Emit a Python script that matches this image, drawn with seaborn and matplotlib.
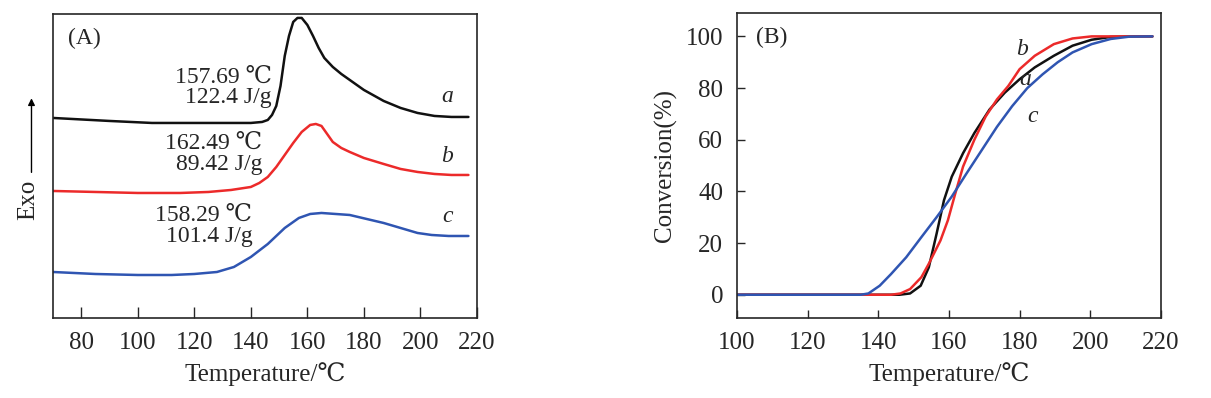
import numpy as np
import pandas as pd
import matplotlib
matplotlib.use('Agg')
import matplotlib.pyplot as plt
import seaborn as sns

# (A) DSC curves, heat flow in arbitrary units (exo up)
temp_a = [70, 90, 105, 125, 140, 144, 146, 147.5, 149, 150.5, 152, 153.5, 155, 156.5, 158,
          160, 162, 164, 166, 169, 172, 175, 180, 187, 193, 199, 205, 211, 217]
heat_a = [200, 197, 195, 195, 195, 196, 198, 203, 212, 232, 262, 282, 296, 300, 300,
          293, 282, 270, 260, 251, 244, 238, 228, 217, 210, 205, 202, 201, 201]

temp_b = [70, 85, 100, 115, 125, 133, 140, 143, 146, 149, 152, 155, 158, 161, 163, 165,
          167, 169, 172, 175, 180, 187, 193, 199, 205, 211, 217]
heat_b = [127, 126, 125, 125, 126, 128, 131, 135, 141, 151, 163, 175, 186, 193, 194, 192,
          184, 176, 170, 166, 160, 154, 149, 146, 144, 143, 143]

temp_c = [70, 85, 100, 112, 120, 128, 134, 140, 146, 152, 157, 161, 165, 170, 175, 181,
          187, 193, 199, 204, 210, 217]
heat_c = [46, 44, 43, 43, 44, 46, 51, 61, 74, 90, 100, 104, 105, 104, 103, 99,
          95, 90, 85, 83, 82, 82]

# (B) conversion curves (%)
temp_ca = [100, 120, 140, 146, 149, 152, 154.3, 156.5, 158.6, 160.8, 164, 167.2, 171.5,
           175.8, 180, 184.3, 189.7, 195, 200.4, 205.8, 212, 217.6]
conv_a = [0, 0, 0, 0, 0.5, 3.5, 10.6, 23.6, 36.6, 45.7, 54.8, 62.6, 71.7,
          78.2, 83.4, 88, 92.5, 96.4, 98.7, 99.8, 100, 100]

temp_cb = [100, 120, 140, 143.6, 146.3, 149, 152.2, 154.3, 157.6, 159.7, 161.8, 164, 167.2,
           170.4, 173.6, 176.8, 180, 184.3, 189.7, 195, 200.4, 207, 217.6]
conv_b = [0, 0, 0, 0, 0.5, 2.2, 6.8, 12, 21, 28.8, 39.2, 49.6, 60,
          69, 75.6, 80.8, 87.3, 92.5, 97, 99.2, 100, 100, 100]

temp_cc = [100, 120, 135, 137.2, 140.4, 143.6, 147.9, 152.2, 156.5, 160.8, 165, 169.3,
           173.6, 177.9, 182.2, 186.5, 190.8, 195, 200.4, 205.8, 211.1, 217.6]
conv_c = [0, 0, 0, 0.5, 3.5, 8, 14.5, 22.3, 30, 38, 47, 56,
          65, 73, 80, 85.3, 90, 93.8, 97, 99, 99.9, 100]

colors = {'a': '#111111', 'b': '#ec2a2a', 'c': '#2f55b2'}

sns.set_style('ticks')
plt.rcParams['font.family'] = ['Liberation Serif', 'DejaVu Serif']
plt.rcParams['axes.linewidth'] = 1.2

dsc = pd.concat([
    pd.DataFrame({'T': temp_a, 'H': heat_a, 's': 'a'}),
    pd.DataFrame({'T': temp_b, 'H': heat_b, 's': 'b'}),
    pd.DataFrame({'T': temp_c, 'H': heat_c, 's': 'c'}),
])
conv = pd.concat([
    pd.DataFrame({'T': temp_ca, 'X': conv_a, 's': 'a'}),
    pd.DataFrame({'T': temp_cb, 'X': conv_b, 's': 'b'}),
    pd.DataFrame({'T': temp_cc, 'X': conv_c, 's': 'c'}),
])

fig = plt.figure(figsize=(12.11, 3.98), dpi=100)
ax1 = fig.add_axes([0.0438, 0.201, 0.350, 0.764])
ax2 = fig.add_axes([0.6086, 0.201, 0.350, 0.766])

fs = 18   # ticks and axis labels
fa = 17   # annotations

# Panel A
sns.lineplot(data=dsc, x='T', y='H', hue='s', palette=colors, linewidth=1.8,
             legend=False, ax=ax1, sort=False)
ax1.set_xlim(70, 220)
ax1.set_ylim(0, 304)
ax1.set_xticks(range(80, 221, 20))
ax1.set_yticks([])
ax1.tick_params(axis='x', direction='in', length=8, width=1.0, labelsize=fs, pad=10)
ax1.set_xlabel('Temperature/℃', fontsize=fs, labelpad=6)
ax1.set_ylabel('')
ax1.text(0.035, 0.92, '(A)', transform=ax1.transAxes, fontsize=fa, va='center')
ax1.text(147.5, 241, '157.69 ℃', ha='right', va='center', fontsize=fa)
ax1.text(147.5, 220, '122.4 J/g', ha='right', va='center', fontsize=fa)
ax1.text(144, 175, '162.49 ℃', ha='right', va='center', fontsize=fa)
ax1.text(144, 153, '89.42 J/g', ha='right', va='center', fontsize=fa)
ax1.text(140.5, 103, '158.29 ℃', ha='right', va='center', fontsize=fa)
ax1.text(140.5, 81, '101.4 J/g', ha='right', va='center', fontsize=fa)
for lab, yv in zip(['a', 'b', 'c'], [221, 161, 101]):
    ax1.text(209.5, yv, lab, fontsize=fa, style='italic', ha='center', va='center')

# Exo arrow
fig.text(0.023, 0.497, 'Exo', rotation=90, ha='center', va='center', fontsize=fs)
fig.add_artist(matplotlib.patches.FancyArrowPatch(
    (0.026, 0.56), (0.026, 0.76), transform=fig.transFigure,
    arrowstyle='-|>', mutation_scale=10, color='black', linewidth=1.0))

# Panel B
sns.lineplot(data=conv, x='T', y='X', hue='s', palette=colors, linewidth=1.8,
             legend=False, ax=ax2, sort=False)
ax2.set_xlim(100, 220)
ax2.set_ylim(-9, 109)
ax2.set_xticks(range(100, 221, 20))
ax2.set_yticks(range(0, 101, 20))
ax2.tick_params(direction='in', length=6, width=1.0, labelsize=fs, pad=10)
ax2.set_xlabel('Temperature/℃', fontsize=fs, labelpad=6)
ax2.set_ylabel('Conversion(%)', fontsize=fs, labelpad=6)
ax2.text(0.045, 0.92, '(B)', transform=ax2.transAxes, fontsize=fa, va='center')
ax2.text(180.6, 95, 'b', fontsize=fa, style='italic', ha='center', va='center')
ax2.text(181.7, 83.5, 'a', fontsize=fa, style='italic', ha='center', va='center')
ax2.text(183.8, 69, 'c', fontsize=fa, style='italic', ha='center', va='center')

for ax in (ax1, ax2):
    for sp in ax.spines.values():
        sp.set_visible(True)
        sp.set_linewidth(1.2)

fig.savefig('out.png', dpi=100)
